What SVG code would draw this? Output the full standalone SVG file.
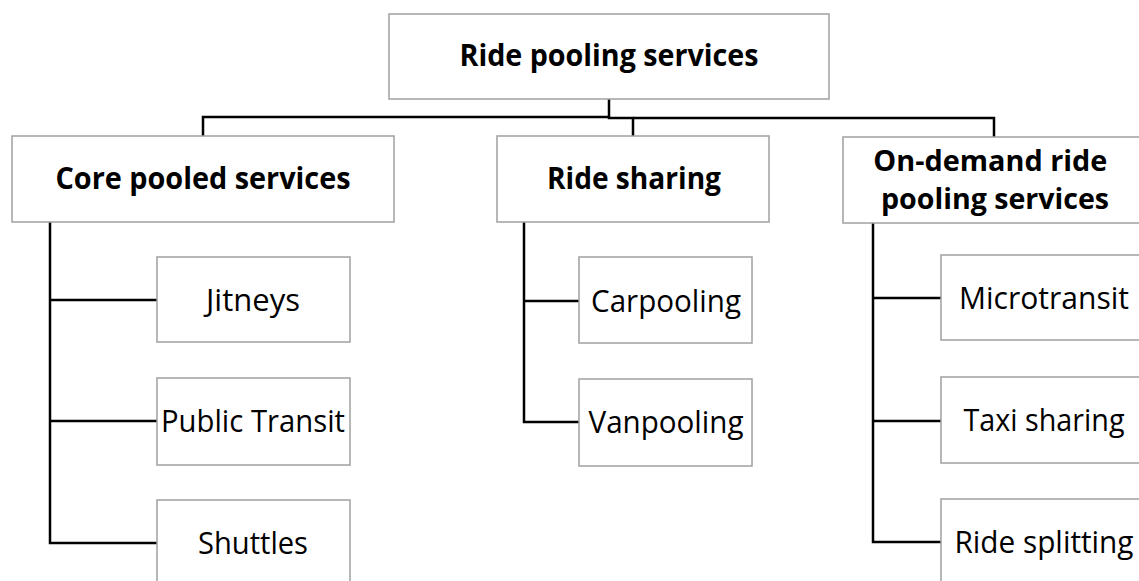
<svg xmlns="http://www.w3.org/2000/svg" width="1139" height="581" viewBox="0 0 1139 581">
  <style>
    .box { fill: #ffffff; stroke: #a0a0a0; stroke-width: 1.5; }
    .link { fill: none; stroke: #000000; stroke-width: 2.5; stroke-linejoin: miter; }
    .head { font-family: "Open Sans", "Noto Sans", "Liberation Sans", sans-serif; font-weight: bold; font-size: 31px; fill: #000000; text-anchor: middle; }
    .head2 { font-size: 28px; }
    .leaf { font-family: "Open Sans", "Noto Sans", "Liberation Sans", sans-serif; font-size: 31px; fill: #000000; text-anchor: middle; }
  </style>
  <rect width="1139" height="581" fill="#ffffff"/>

  <!-- connectors -->
  <g id="connectors">
    <path class="link" d="M203,136 V117 H609"/>
    <path class="link" d="M609,99 V118 H633 V136"/>
    <path class="link" d="M633,118 H994 V137"/>

    <path class="link" d="M50,222 V543 H157"/>
    <path class="link" d="M50,300 H157"/>
    <path class="link" d="M50,421 H157"/>

    <path class="link" d="M524,222 V422 H579"/>
    <path class="link" d="M524,301 H579"/>

    <path class="link" d="M873,223 V542 H941"/>
    <path class="link" d="M873,298 H941"/>
    <path class="link" d="M873,421 H941"/>
  </g>

  <!-- root -->
  <g id="root">
    <rect class="box" x="389" y="14" width="440" height="85"/>
    <text class="head" x="609" y="66" textLength="299" lengthAdjust="spacingAndGlyphs">Ride pooling services</text>
  </g>

  <!-- categories -->
  <g id="core">
    <rect class="box" x="12" y="136" width="382" height="86"/>
    <text class="head" x="203" y="189" textLength="295" lengthAdjust="spacingAndGlyphs">Core pooled services</text>
  </g>
  <g id="ridesharing">
    <rect class="box" x="497" y="136" width="272" height="86"/>
    <text class="head" x="634" y="189" textLength="174" lengthAdjust="spacingAndGlyphs">Ride sharing</text>
  </g>
  <g id="ondemand">
    <rect class="box" x="843" y="137" width="305" height="86"/>
    <text class="head head2">
      <tspan x="994" y="171" textLength="234" lengthAdjust="spacingAndGlyphs">On-demand ride</tspan>
      <tspan x="995" y="209" textLength="228" lengthAdjust="spacingAndGlyphs">pooling services</tspan>
    </text>
  </g>

  <!-- core pooled services children -->
  <g id="jitneys">
    <rect class="box" x="157" y="257" width="193" height="85"/>
    <text class="leaf" x="253" y="311" textLength="94" lengthAdjust="spacingAndGlyphs">Jitneys</text>
  </g>
  <g id="publictransit">
    <rect class="box" x="157" y="378" width="193" height="87"/>
    <text class="leaf" x="253" y="432" textLength="184" lengthAdjust="spacingAndGlyphs">Public Transit</text>
  </g>
  <g id="shuttles">
    <rect class="box" x="157" y="500" width="193" height="87"/>
    <text class="leaf" x="253" y="554" textLength="110" lengthAdjust="spacingAndGlyphs">Shuttles</text>
  </g>

  <!-- ride sharing children -->
  <g id="carpooling">
    <rect class="box" x="579" y="257" width="173" height="86"/>
    <text class="leaf" x="666" y="312" textLength="150" lengthAdjust="spacingAndGlyphs">Carpooling</text>
  </g>
  <g id="vanpooling">
    <rect class="box" x="579" y="379" width="173" height="87"/>
    <text class="leaf" x="666" y="433" textLength="155" lengthAdjust="spacingAndGlyphs">Vanpooling</text>
  </g>

  <!-- on-demand children -->
  <g id="microtransit">
    <rect class="box" x="941" y="255" width="210" height="85"/>
    <text class="leaf" x="1044" y="309" textLength="170" lengthAdjust="spacingAndGlyphs">Microtransit</text>
  </g>
  <g id="taxisharing">
    <rect class="box" x="941" y="377" width="210" height="86"/>
    <text class="leaf" x="1044" y="431" textLength="161" lengthAdjust="spacingAndGlyphs">Taxi sharing</text>
  </g>
  <g id="ridesplitting">
    <rect class="box" x="941" y="499" width="210" height="87"/>
    <text class="leaf" x="1044" y="553" textLength="179" lengthAdjust="spacingAndGlyphs">Ride splitting</text>
  </g>
</svg>
